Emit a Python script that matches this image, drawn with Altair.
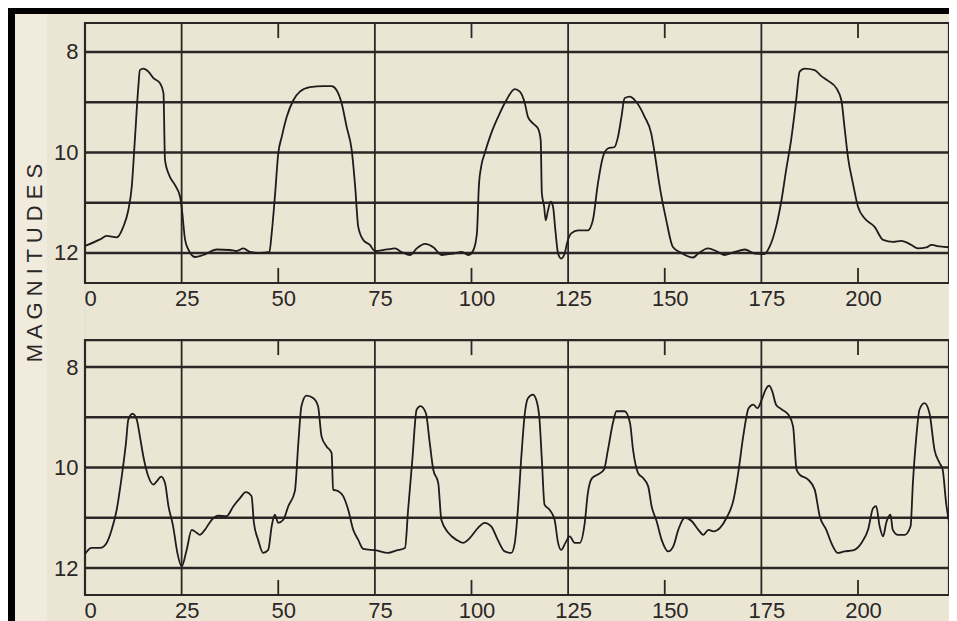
import altair as alt
import pandas as pd

# ---------------- data ----------------
top_day = [0, 3.9, 5.6, 8.2, 9.9, 11.2, 12.1, 12.9, 13.8, 14.2, 15.1, 16.4, 17.7, 19.4, 20.3, 20.7,
           21.6, 23.3, 24.6, 25.0, 25.9, 26.8, 28.5, 30.6, 34.1, 37.5, 39.2, 41.0, 42.7, 45.3, 47.7,
           48.3, 49.2, 50.0, 50.9, 52.2, 53.9, 55.6, 58.2, 61.7, 63.8, 65.1, 66.4, 67.7, 69.0, 69.9,
           70.7, 72.0, 73.7, 75.0, 78.1, 80.2, 81.9, 84.1, 85.8, 88.0, 90.2, 92.3, 95.3, 97.5, 99.2,
           100.5, 101.4, 101.9, 102.5, 103.4, 105.1, 106.9, 109.0, 111.2, 112.5, 113.8, 114.6, 115.9,
           117.2, 117.9, 118.2, 118.8, 119.2, 119.8, 120.5, 121.1, 121.7, 122.4, 123.2, 124.1, 124.8,
           125.8, 127.6, 130.1, 131.4, 132.7, 134.0, 135.3, 137.0, 137.9, 138.8, 139.6, 140.9, 142.6,
           144.8, 146.5, 147.4, 148.7, 150.4, 152.1, 154.3, 157.3, 158.7, 161.2, 163.3, 165.5, 168.1,
           170.7, 173.3, 175.8, 177.1, 178.8, 180.2, 181.4, 182.7, 184.0, 184.9, 186.2, 188.8, 190.5,
           192.2, 194.4, 195.7, 196.5, 197.4, 198.7, 200.0, 201.7, 204.3, 206.5, 209.1, 211.2, 213.8,
           215.5, 217.7, 219.0, 221.2, 224.6]
top_mag = [11.86, 11.73, 11.66, 11.69, 11.48, 11.15, 10.68, 9.75, 8.69, 8.36, 8.33, 8.39, 8.52, 8.62, 8.82, 10.15,
           10.42, 10.65, 10.88, 11.08, 11.74, 11.94, 12.08, 12.04, 11.93, 11.94, 11.96, 11.91, 11.98, 12.0, 11.98,
           11.61, 10.81, 10.02, 9.69, 9.29, 8.96, 8.79, 8.70, 8.68, 8.68, 8.76, 9.02, 9.49, 9.95, 10.68,
           11.48, 11.74, 11.84, 11.96, 11.93, 11.91, 11.98, 12.04, 11.91, 11.82, 11.89, 12.04, 12.01, 11.98, 12.04,
           11.94, 11.61, 10.68, 10.28, 10.02, 9.62, 9.29, 8.96, 8.74, 8.79, 9.02, 9.29, 9.42,
           9.52, 9.75, 10.81, 11.08, 11.35, 11.15, 10.98, 11.08, 11.55, 12.01, 12.11, 12.01, 11.78,
           11.61, 11.55, 11.55, 11.35, 10.62, 10.09, 9.92, 9.89, 9.69, 9.29, 8.92, 8.89, 8.99,
           9.29, 9.62, 10.02, 10.68, 11.35, 11.88, 12.00, 12.09, 12.01, 11.91, 11.96, 12.04, 11.98,
           11.93, 12.01, 12.02, 11.88, 11.48, 10.95, 10.35, 9.75, 8.96, 8.39, 8.33, 8.36, 8.48,
           8.57, 8.72, 8.96, 9.49, 10.09, 10.62, 11.08, 11.31, 11.48, 11.74, 11.78, 11.76, 11.84,
           11.91, 11.89, 11.84, 11.87, 11.89]

bot_day = [0, 1.7, 3.9, 5.6, 6.9, 8.2, 9.5, 10.6, 11.2, 12.3, 13.4, 14.2, 15.1, 16.4, 17.7, 18.5, 19.7,
           20.7, 21.6, 22.8, 23.9, 25.0, 26.3, 27.6, 28.9, 29.7, 31.0, 32.8, 34.5, 36.6, 38.4, 40.1,
           41.6, 43.1, 43.7, 44.8, 46.1, 47.4, 48.3, 49.1, 50.0, 51.3, 52.6, 54.3, 55.2, 56.0, 57.3,
           59.1, 60.3, 61.2, 62.5, 63.8, 64.2, 65.5, 66.8, 68.1, 69.4, 70.7, 72.0, 75.4, 78.4, 80.6,
           82.8, 83.6, 84.7, 85.8, 86.8, 88.2, 89.2, 90.1, 91.4, 92.2, 94.0, 96.1, 97.8, 99.6, 101.7,
           103.4, 105.1, 106.8, 108.6, 110.3, 111.2, 112.0, 112.9, 113.8, 114.6, 115.9, 117.0, 117.6,
           118.2, 118.9, 120.2, 121.5, 122.4, 123.2, 124.3, 125.4, 126.7, 128.0, 129.3, 130.1, 131.2,
           132.7, 134.3, 135.3, 136.6, 137.5, 139.6, 141.0, 141.8, 143.1, 144.4, 145.7, 146.6, 147.9,
           149.2, 150.9, 152.2, 153.5, 155.2, 157.0, 158.7, 160.0, 161.3, 162.6, 164.3, 166.0, 167.8,
           169.0, 170.3, 171.7, 172.9, 174.0, 175.1, 176.1, 177.0, 177.8, 178.8, 180.2, 182.0, 183.2,
           184.1, 184.9, 187.1, 188.8, 190.1, 191.8, 193.1, 194.8, 196.5, 198.7, 200.9, 202.6, 203.9,
           204.7, 205.6, 206.5, 207.3, 208.4, 209.0, 210.4, 212.1, 213.6, 214.2, 215.1, 215.9, 217.2,
           218.5, 219.8, 221.1, 221.9, 222.8, 223.6, 224.5]
bot_mag = [11.72, 11.60, 11.60, 11.50, 11.24, 10.84, 10.18, 9.51, 9.05, 8.93, 9.05, 9.38, 9.78, 10.18, 10.34, 10.28, 10.18,
           10.31, 10.77, 11.17, 11.70, 11.97, 11.64, 11.24, 11.30, 11.34, 11.24, 11.04, 10.96, 10.97, 10.77, 10.61,
           10.49, 10.57, 11.10, 11.44, 11.70, 11.64, 11.17, 10.94, 11.10, 11.04, 10.77, 10.47, 9.51, 8.78, 8.57,
           8.62, 8.78, 9.38, 9.58, 9.71, 10.44, 10.47, 10.57, 10.84, 11.24, 11.44, 11.62, 11.65, 11.70, 11.65,
           11.60, 10.84, 9.84, 8.85, 8.78, 8.92, 9.51, 10.04, 10.31, 11.04, 11.30, 11.44, 11.50, 11.40, 11.20,
           11.10, 11.17, 11.44, 11.67, 11.70, 11.50, 10.84, 9.78, 8.92, 8.62, 8.55, 8.72, 9.05,
           9.84, 10.74, 10.84, 11.04, 11.50, 11.64, 11.50, 11.37, 11.50, 11.50, 11.10, 10.51, 10.21,
           10.14, 10.04, 9.65, 9.11, 8.88, 8.88, 9.11, 9.65, 10.11, 10.21, 10.37, 10.77, 11.07,
           11.44, 11.67, 11.57, 11.24, 11.00, 11.07, 11.24, 11.34, 11.24, 11.27, 11.20, 11.00, 10.64,
           10.11, 9.38, 8.82, 8.75, 8.82, 8.65, 8.45, 8.37, 8.48, 8.75, 8.84, 8.95, 9.18,
           10.04, 10.14, 10.24, 10.44, 10.97, 11.24, 11.50, 11.70, 11.67, 11.65, 11.50, 11.24, 10.81,
           10.77, 11.17, 11.37, 11.10, 10.94, 11.24, 11.34, 11.34, 11.17, 10.31, 9.38, 8.85, 8.72,
           8.92, 9.65, 9.91, 10.04, 10.71, 11.10, 11.37]

grid_mags = [8, 9, 10, 11, 12]
long_lines = [25, 75, 125, 175]
short_ticks = [50, 100, 150, 200]
x_tick_labels = [0, 25, 50, 75, 100, 125, 150, 175, 200]
y_tick_labels = [8, 10, 12]
axis_title = "M A G N I T U D E S"

W, H = 864, 572
X_MAX = W / 3.865          # visible part of the day axis
# y domains (whole stacked plot area) and each panel's frame
TOP_DOMAIN, TOP_FRAME = [7.423, 18.806], (7.423, 12.597)
BOT_DOMAIN, BOT_FRAME = [1.154, 12.537], (7.463, 12.537)
TICK_LEN = 0.3

INK = "#2a2726"
BG = "#ebe6d4"
FONT = "Liberation Sans"


def panel(days, mags, domain, frame, x_offset, extras=()):
    xs = alt.Scale(domain=[0, X_MAX], nice=False, zero=False)
    ys = alt.Scale(domain=domain, reverse=True, nice=False, zero=False)
    xa = alt.Axis(values=x_tick_labels, orient="bottom", offset=x_offset, domain=False,
                  ticks=False, tickSize=0, grid=False, labelPadding=5, labelFont=FONT,
                  labelFontSize=22, labelColor=INK, labelOffset=5, labelFlush=False,
                  labelOverlap=False, title=None)
    ya = alt.Axis(values=y_tick_labels, orient="left", domain=False, ticks=False, tickSize=0,
                  grid=False, labelPadding=7, labelFont=FONT, labelFontSize=22,
                  labelColor=INK, title=None)

    def X(f):
        return alt.X(f, type="quantitative", scale=xs, axis=xa)

    def Y(f):
        return alt.Y(f, type="quantitative", scale=ys, axis=ya)

    ft, fb = frame
    grid = alt.Chart(pd.DataFrame({"m": grid_mags})).mark_rule(
        color=INK, strokeWidth=2.4).encode(y=Y("m"))
    vlines = alt.Chart(pd.DataFrame({"d": long_lines, "a": ft, "b": fb})).mark_rule(
        color=INK, strokeWidth=1.8).encode(x=X("d"), y=Y("a"), y2="b")
    tdf = pd.DataFrame({
        "d": short_ticks * 2,
        "a": [ft] * len(short_ticks) + [fb - TICK_LEN] * len(short_ticks),
        "b": [ft + TICK_LEN] * len(short_ticks) + [fb] * len(short_ticks),
    })
    ticks = alt.Chart(tdf).mark_rule(color=INK, strokeWidth=1.8).encode(
        x=X("d"), y=Y("a"), y2="b")
    frame_rect = alt.Chart(pd.DataFrame({"x0": [0], "x1": [X_MAX], "y0": [ft], "y1": [fb]})).mark_rect(
        fillOpacity=0, stroke=INK, strokeWidth=2.2).encode(x=X("x0"), x2="x1", y=Y("y0"), y2="y1")
    curve = alt.Chart(pd.DataFrame({"d": days, "m": mags})).mark_line(
        color="#1e1c1c", strokeWidth=1.8, interpolate="monotone", clip=True).encode(
        x=X("d"), y=Y("m"))
    return alt.layer(*extras, grid, vlines, ticks, frame_rect, curve)


one = pd.DataFrame({"k": [0]})
light_strip = alt.Chart(one).mark_rect(color="#f0ebdd").encode(
    x=alt.value(-70), x2=alt.value(-38), y=alt.value(-9), y2=alt.value(H + 30))
band_top = alt.Chart(one).mark_rect(color="#000000").encode(
    x=alt.value(-77), x2=alt.value(W + 10), y=alt.value(-15), y2=alt.value(-9))
band_left = alt.Chart(one).mark_rect(color="#000000").encode(
    x=alt.value(-77), x2=alt.value(-70), y=alt.value(-15), y2=alt.value(H + 30))
title_txt = alt.Chart(one).mark_text(
    text=axis_title, angle=270, font=FONT, fontSize=22, color=INK,
    align="center", baseline="middle").encode(x=alt.value(-50), y=alt.value(240))

top = panel(top_day, top_mag, TOP_DOMAIN, TOP_FRAME, -(H - 260),
            extras=(light_strip, band_top, band_left, title_txt))
bottom = panel(bot_day, bot_mag, BOT_DOMAIN, BOT_FRAME, 0)

chart = alt.layer(top, bottom).resolve_scale(
    x="independent", y="independent"
).properties(
    width=W, height=H,
    autosize=alt.AutoSizeParams(type="none"),
    padding={"left": 77, "top": 15, "right": 0, "bottom": 26},
).configure_view(stroke=None).configure(background=BG)

chart.save("out.html", embed_options={"renderer": "svg", "actions": False})
